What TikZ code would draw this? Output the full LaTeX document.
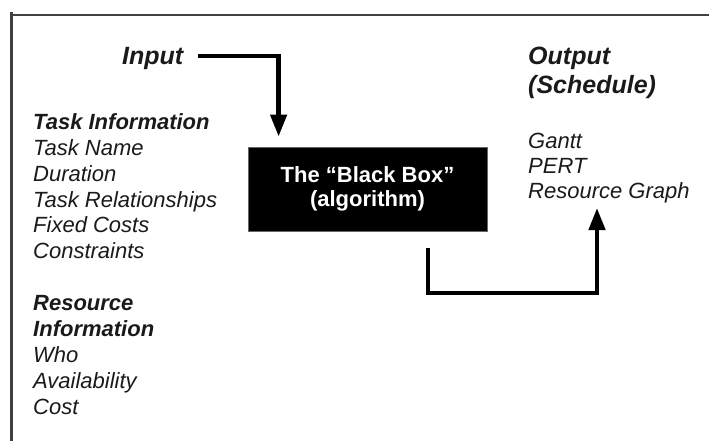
\documentclass[tikz,border=0pt]{standalone}
\usepackage{fontspec}
\setmainfont{Liberation Sans}
\usetikzlibrary{arrows.meta}
\definecolor{ink}{HTML}{1A1A1A}
\tikzset{
  listtext/.style={anchor=base west, inner sep=0pt, text=ink,
    font=\fontsize{22}{26}\selectfont\itshape},
  listhead/.style={listtext, font=\fontsize{22}{26}\selectfont\bfseries\itshape},
  headtext/.style={anchor=base west, inner sep=0pt, text=ink,
    font=\fontsize{25}{30}\selectfont\bfseries\itshape},
  blackbox/.style={fill=black, draw=black!60, line width=0.8pt, minimum width=239pt,
    minimum height=84pt, inner sep=0pt, align=center, text=white,
    font=\fontsize{22}{24}\selectfont\bfseries},
  conn/.style={line width=4.5pt, draw=black, -{Triangle[width=16pt,length=22pt]}},
  frameline/.style={line width=2.6pt, draw=black!75}
}
\begin{document}
\begin{tikzpicture}[x=1pt,y=-1pt]
\useasboundingbox (0,0) rectangle (709,441);
% frame (top and left edges)
\draw[frameline] (11.5,441) -- (11.5,12);
\draw[frameline] (10,15) -- (709,15);
% headings
\node[headtext] (inp) at (122,65) {Input};
\node[headtext] (out) at (528,65) {Output};
\node[headtext] (sched) at (528,94) {(Schedule)};
% black box
\node[blackbox] (box) at (367.5,189) {The “Black Box”\\(algorithm)};
% left lists
\node[listhead] (taskh) at (33,129.3) {Task Information};
\foreach \t [count=\i] in {Task Name,Duration,Task Relationships,Fixed Costs,Constraints}
  \node[listtext] (task\i) at (33,{129.3+\i*25.9}) {\t};
\node[listhead] (resh1) at (33,310) {Resource};
\node[listhead] (resh2) at (33,336) {Information};
\foreach \t [count=\i] in {Who,Availability,Cost}
  \node[listtext] (res\i) at (33,{336+\i*26}) {\t};
% output list
\foreach \t [count=\i] in {Gantt,PERT,Resource Graph}
  \node[listtext] (olist\i) at (528,{148+(\i-1)*25}) {\t};
% connectors
\coordinate (inA) at (198,56);
\coordinate (outA) at (428,248);
\coordinate (outB) at (597,208);
\draw[conn] (inA) -| ([xshift=31pt,yshift=10pt]box.north west);
\draw[conn] (outA) |- (512,293) -| (outB);
\end{tikzpicture}
\end{document}
